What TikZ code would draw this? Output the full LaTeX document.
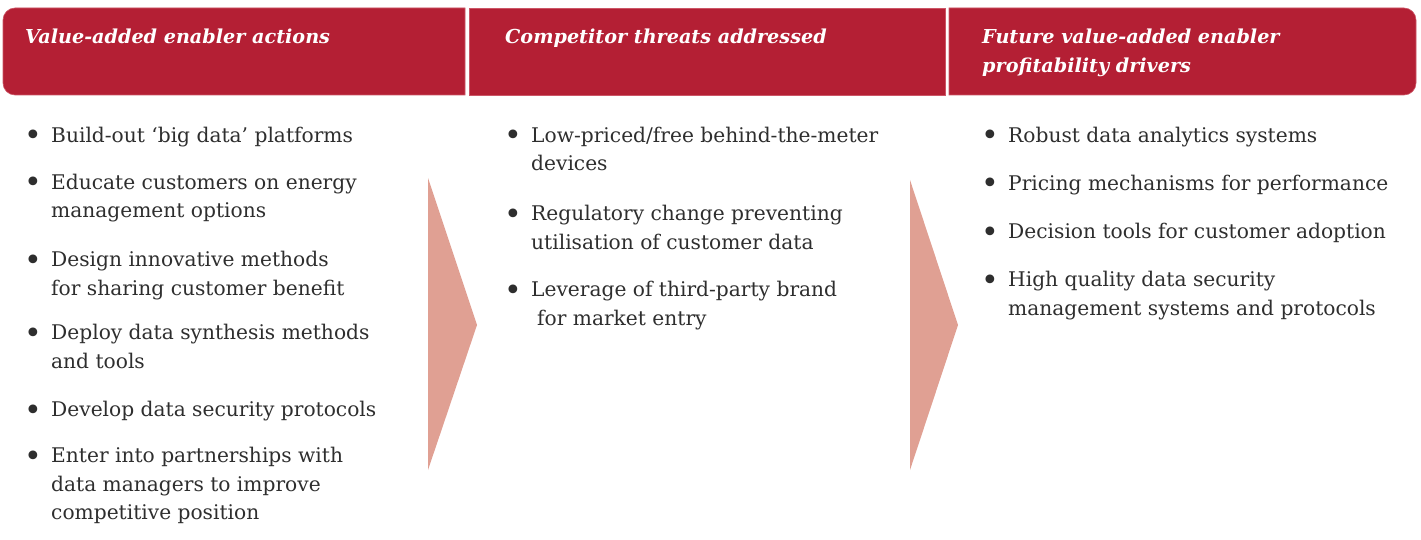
\documentclass[tikz,border=0pt]{standalone}
\usepackage{fontspec}
\setmainfont{DejaVu Serif}
\definecolor{hdr}{HTML}{B41F34}
\definecolor{hdredge}{HTML}{CC5566}
\definecolor{arr}{HTML}{E0A093}
\definecolor{txt}{HTML}{2E2E2E}
\newcommand\tp{\rule{0pt}{18pt}}
\begin{document}
\begin{tikzpicture}[x=1pt,y=-1pt,
  hdrfill/.style={fill=hdr,draw=hdredge,line width=0.6pt},
  hdrtext/.style={anchor=north west,inner sep=0pt,text=white,align=left,
    font=\fontsize{19.2}{29}\selectfont\bfseries\itshape},
  itemtext/.style={anchor=north west,inner sep=0pt,text=txt,align=left,
    font=\fontsize{20.2}{28.8}\selectfont},
  bul/.style={anchor=base,inner sep=0pt,text=txt,font=\fontsize{30}{30}\selectfont},
  arrowshape/.style={fill=arr,draw=none}]
\useasboundingbox (0,0) rectangle (1421,540);
% header bars
\path[hdrfill] (465,95) -- (465,8) -- (15,8) arc[start angle=270,end angle=180,radius=12] -- (3,83) arc[start angle=180,end angle=90,radius=12] -- cycle;
\path[hdrfill] (469,8) rectangle (945,95);
\path[hdrfill] (949,8) -- (1404,8) arc[start angle=270,end angle=360,radius=12] -- (1416,83) arc[start angle=0,end angle=90,radius=12] -- (949,95) -- cycle;
\node[hdrtext] (h1) at (25,25) {\tp Value-added enabler actions};
\node[hdrtext] (h2) at (505,25) {\tp Competitor threats addressed};
\node[hdrtext] (h3) at (982,25) {\tp Future value-added enabler\\profitability drivers};
% arrows
\path[arrowshape] (428,178) -- (477,325) -- (428,470) -- cycle;
\path[arrowshape] (910,180) -- (958,325) -- (910,470) -- cycle;
% column 1
\foreach \n/\y in {a1/142,a2/189,a3/266,a4/339,a5/416,a6/462}{\node[bul] (\n b) at (33,\y+4) {•};}
\node[itemtext] (a1) at (51,124) {\tp Build-out ‘big data’ platforms};
\node[itemtext] (a2) at (51,171) {\tp Educate customers on energy\\management options};
\node[itemtext] (a3) at (51,248) {\tp Design innovative methods\\for sharing customer benefit};
\node[itemtext] (a4) at (51,321) {\tp Deploy data synthesis methods\\and tools};
\node[itemtext] (a5) at (51,398) {\tp Develop data security protocols};
\node[itemtext] (a6) at (51,444) {\tp Enter into partnerships with\\data managers to improve\\competitive position};
% column 2
\foreach \n/\y in {c1/142,c2/220,c3/296}{\node[bul] (\n b) at (513,\y+4) {•};}
\node[itemtext] (c1) at (531,124) {\tp Low-priced/free behind-the-meter\\devices};
\node[itemtext] (c2) at (531,202) {\tp Regulatory change preventing\\utilisation of customer data};
\node[itemtext] (c3) at (531,278) {\tp Leverage of third-party brand\\\hspace*{6pt}for market entry};
% column 3
\foreach \n/\y in {d1/142,d2/190,d3/238,d4/286}{\node[bul] (\n b) at (990,\y+4) {•};}
\node[itemtext] (d1) at (1008,124) {\tp Robust data analytics systems};
\node[itemtext] (d2) at (1008,172) {\tp Pricing mechanisms for performance};
\node[itemtext] (d3) at (1008,220) {\tp Decision tools for customer adoption};
\node[itemtext] (d4) at (1008,268) {\tp High quality data security\\management systems and protocols};
\end{tikzpicture}
\end{document}
